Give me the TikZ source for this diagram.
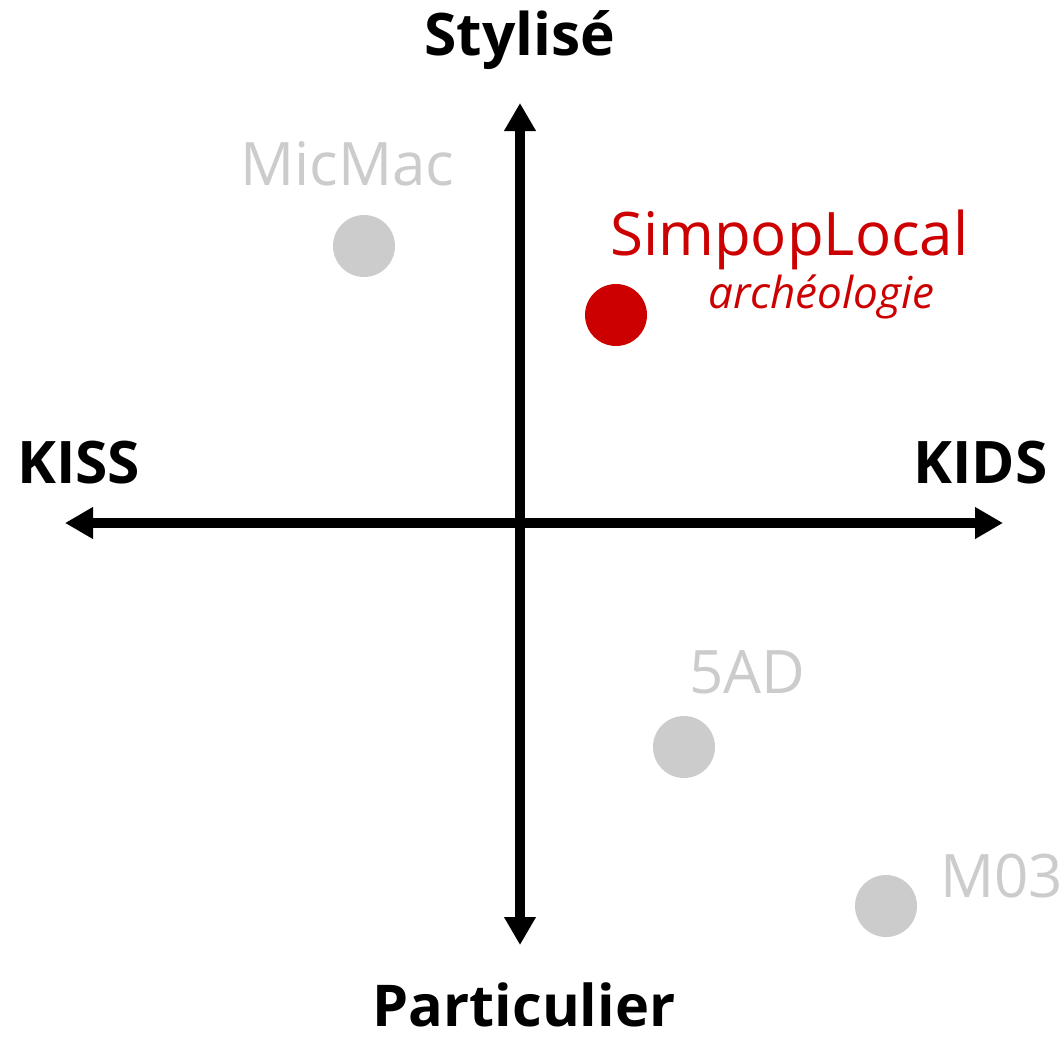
\documentclass[tikz,border=0pt]{standalone}
\usepackage{fontspec}
\setmainfont{Open Sans}
\usetikzlibrary{arrows.meta}
\definecolor{simred}{HTML}{CC0000}
\definecolor{lightgray}{HTML}{CCCCCC}
\begin{document}
\begin{tikzpicture}[x=0.75pt,y=-0.75pt,
  axis/.style={line width=7.5pt,-{Triangle[length=21pt,width=22.5pt]}},
  axislabel/.style={inner sep=0pt,anchor=base,font=\fontsize{44}{50}\selectfont\bfseries},
  dotmark/.style={circle,inner sep=0pt,minimum size=46.5pt,fill=#1},
  modellabel/.style={inner sep=0pt,anchor=base west,text=#1,font=\fontsize{45}{52}\selectfont}]
\useasboundingbox (0,0) rectangle (1064,1036);
\coordinate (o) at (520,523);
\coordinate (top) at (520,103);
\coordinate (bot) at (520,945);
\coordinate (lft) at (65,523);
\coordinate (rgt) at (1003,523);
\draw[axis] (o) -- (top);
\draw[axis] (o) -- (bot);
\draw[axis] (o) -- (lft);
\draw[axis] (o) -- (rgt);
\node[axislabel] (sty) at (520,55) {Stylisé};
\node[axislabel,font=\fontsize{43.2}{50}\selectfont\bfseries] (part) at (524,1026) {Particulier};
\node[axislabel,anchor=base west] (kiss) at (17,483) {KISS};
\node[axislabel,anchor=base east] (kids) at (1048,483) {KIDS};
\node[dotmark=lightgray] (mmdot) at (364,246) {};
\node[modellabel=lightgray] (mm) at (240,185) {MicMac};
\node[dotmark=simred] (spdot) at (616,315) {};
\node[modellabel=simred] (sp) at (610,255) {SimpopLocal};
\node[inner sep=0pt,anchor=base west,text=simred,font=\fontsize{33}{39}\selectfont\itshape] (arch) at (708,308) {archéologie};
\node[dotmark=lightgray] (addot) at (684,747) {};
\node[modellabel=lightgray] (ad) at (689,693) {5AD};
\node[dotmark=lightgray] (mdot) at (886,906) {};
\node[modellabel=lightgray] (m03) at (940,897) {M03};
\end{tikzpicture}
\end{document}
